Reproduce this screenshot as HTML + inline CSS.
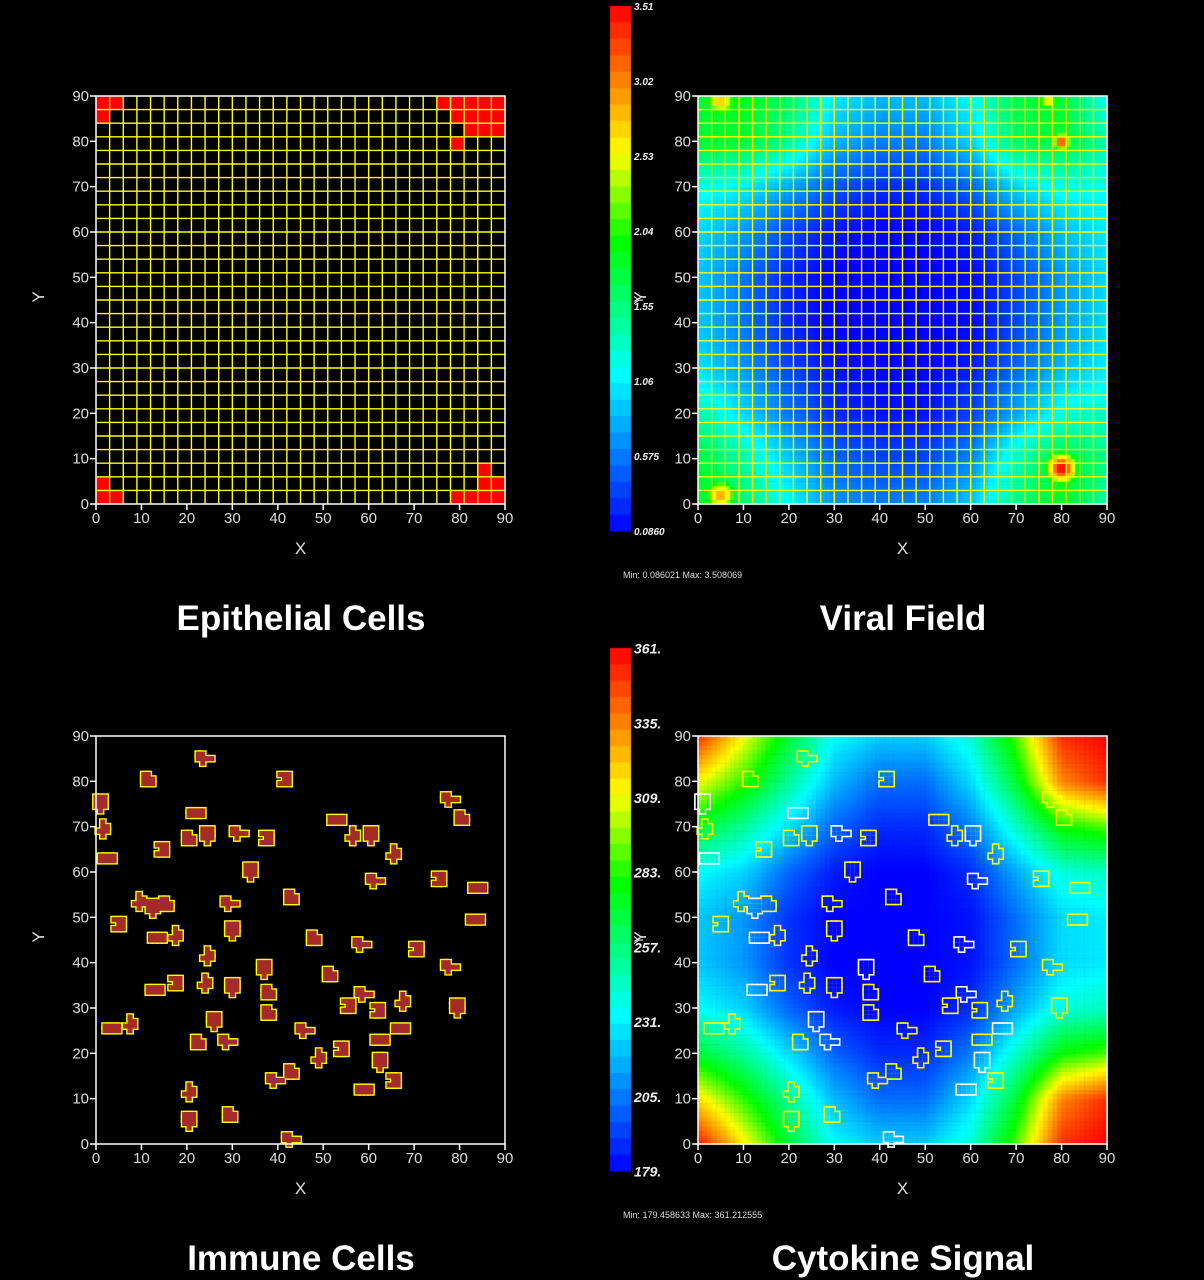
<!DOCTYPE html>
<html><head><meta charset="utf-8"><style>
html,body{margin:0;padding:0;background:#000;}
#wrap{position:relative;width:1204px;height:1280px;overflow:hidden;background:#000;}
canvas,svg{position:absolute;left:0;top:0;}
text{font-family:"Liberation Sans",sans-serif;}
</style></head><body>
<div id="wrap">
<canvas id="cv" width="1204" height="1280"></canvas>
<svg id="sv" width="1204" height="1280" xmlns="http://www.w3.org/2000/svg"></svg>
</div>
<script>
// ---------- data ----------
const axisTicks=[0,10,20,30,40,50,60,70,80,90];
const redCols=[0,1,0, 25,26,27,28,29, 26,27,28,29, 27,28,29, 26, 0,1,0, 26,27,28,29, 28,29, 28];
const redRows=[29,29,28, 29,29,29,29,29, 28,28,28,28, 27,27,27, 26, 0,0,1, 0,0,0,0, 1,1, 2];
const viralMin=0.086021, viralMax=3.508069;
const viralLevels=[
[0.50,0.52,0.45,0.28,0.22,0.22,0.30,0.48,0.50,0.30],
[0.50,0.50,0.40,0.22,0.15,0.15,0.25,0.45,0.50,0.38],
[0.32,0.28,0.20,0.10,0.05,0.05,0.12,0.25,0.32,0.30],
[0.26,0.18,0.08,0.02,0.00,0.00,0.03,0.12,0.22,0.28],
[0.24,0.14,0.04,0.00,0.00,0.00,0.01,0.08,0.18,0.26],
[0.24,0.14,0.04,0.00,0.00,0.00,0.01,0.08,0.18,0.26],
[0.27,0.18,0.08,0.02,0.00,0.00,0.03,0.12,0.22,0.28],
[0.38,0.26,0.14,0.05,0.02,0.02,0.08,0.20,0.32,0.35],
[0.50,0.38,0.24,0.12,0.08,0.08,0.16,0.36,0.50,0.42],
[0.52,0.45,0.30,0.18,0.15,0.16,0.24,0.42,0.52,0.38]];
const hotX=[5,77,80,5,80];
const hotY=[89,89,80,2,8];
const hotPeak=[0.78,0.74,0.95,0.82,1.0];
const hotRad=[4.5,3,2.5,4.5,4.5];
const viralBarLabels=["3.51","3.02","2.53","2.04","1.55","1.06","0.575","0.0860"];
const cytoMin=179.458633, cytoMax=361.212555;
const cytoLevels=[
[0.95,0.72,0.50,0.30,0.24,0.24,0.34,0.60,0.95,1.00],
[0.72,0.58,0.40,0.22,0.13,0.13,0.26,0.50,0.85,0.95],
[0.50,0.40,0.26,0.12,0.05,0.05,0.15,0.35,0.55,0.60],
[0.30,0.25,0.12,0.03,0.00,0.00,0.05,0.20,0.33,0.36],
[0.24,0.18,0.06,0.00,0.00,0.00,0.02,0.13,0.26,0.28],
[0.24,0.18,0.06,0.00,0.00,0.00,0.02,0.13,0.26,0.28],
[0.30,0.25,0.12,0.03,0.00,0.00,0.05,0.20,0.33,0.36],
[0.50,0.40,0.26,0.12,0.05,0.05,0.15,0.35,0.55,0.60],
[0.75,0.58,0.40,0.22,0.13,0.13,0.26,0.50,0.85,0.95],
[0.98,0.74,0.50,0.30,0.24,0.24,0.34,0.60,0.95,1.00]];
const cytoBarLabels=["361.","335.","309.","283.","257.","231.","205.","179."];
const immX=[1,11.5,23.5,41.5,21.5,1.5,24.5,20.5,31,37.5,52.5,56.5,60.5,80.5,77.5,14.5,2,65.5,34,43,61,75.5,83.5,9.5,12.5,15.5,29,5,13,17.5,30,48,58,70.5,83,24.5,37,51.5,77.5,17.5,12.5,24,30,38,58.5,55.5,3,7.5,26,38,45.5,62,66.5,67.5,79.5,22.5,28.5,54,62,49,62.5,43,39,65.5,58.5,20.5,20.5,29.5,42.5];
const immY=[75.5,80.5,85,80.5,73.5,69,68.5,67.5,68.5,67.5,72,67.5,68.5,72,76,65,63.5,63.5,60.5,54.5,58,58.5,57,53,52.5,53,53,48.5,46,45.5,47.5,45.5,44,43,50,41,39,37.5,39,35.5,34.5,35,35,33.5,33,30.5,26,26,27.5,29,25,29.5,26,31,30.5,22.5,22.5,21,23.5,18.5,18.5,16,14,14,12.5,11,5.5,6.5,1];
const shapes=[
 [[0,0],[1,0],[2,0],[0,1],[1,1],[2,1],[0,2],[1,2],[2,2],[1,-1]],
 [[0,0],[1,0],[2,0],[0,1],[1,1],[2,1],[0,2],[1,2]],
 [[1,0],[0,1],[1,1],[2,1],[3,1],[0,2],[1,2]],
 [[0,0],[1,0],[1,1],[2,1],[0,2],[1,2],[2,2],[2,0]],
 [[0,0],[1,0],[2,0],[3,0],[0,1],[1,1],[2,1],[3,1]],
 [[1,0],[1,1],[2,1],[0,1],[1,2],[2,2],[1,3]]
];
// ---------- helpers ----------
const NS="http://www.w3.org/2000/svg";
const sv=document.getElementById('sv');
const ctx=document.getElementById('cv').getContext('2d');
const W=409,H=408;
function mk(tag,attrs,parent){const e=document.createElementNS(NS,tag);for(const k in attrs)e.setAttribute(k,attrs[k]);(parent||sv).appendChild(e);return e;}
function sx(p,u){return p.x+u*W/90;}
function sy(p,u){return p.y+H-u*H/90;}
const cmapT=[0,0.3,0.55,0.72,1];
const cmapC=[[0,0,255],[0,255,255],[0,255,0],[255,255,0],[255,0,0]];
function colorOf(t){t=Math.max(0,Math.min(1,t));let k=0;while(k<cmapT.length-2&&t>cmapT[k+1])k++;
 const a=(t-cmapT[k])/(cmapT[k+1]-cmapT[k]);const c0=cmapC[k],c1=cmapC[k+1];
 return 'rgb('+Math.round(c0[0]+(c1[0]-c0[0])*a)+','+Math.round(c0[1]+(c1[1]-c0[1])*a)+','+Math.round(c0[2]+(c1[2]-c0[2])*a)+')';}
function bil(g,u,v){const fx=u/10,fy=(90-v)/10;let i=Math.min(8,Math.floor(fx)),j=Math.min(8,Math.floor(fy));const a=fx-i,b=fy-j;
 return g[j][i]*(1-a)*(1-b)+g[j][i+1]*a*(1-b)+g[j+1][i]*(1-a)*b+g[j+1][i+1]*a*b;}
const P1={x:96,y:96},P2={x:698,y:96},P3={x:96,y:736},P4={x:698,y:736};

function axes(p,name){
 const g=mk('g',{});
 
 
 mk('rect',{x:p.x,y:p.y,width:W,height:H,fill:'none',stroke:'#fff','stroke-width':1.5},g);
 axisTicks.forEach(t=>{
  const x=sx(p,t),y=sy(p,t);
  mk('line',{x1:x,y1:p.y+H,x2:x,y2:p.y+H+6,stroke:'#fff','stroke-width':1.5},g);
  const tx=mk('text',{x:x,y:p.y+H+19,fill:'#ddd','font-size':15,'text-anchor':'middle'},g);tx.textContent=t;
  
  
  mk('line',{x1:p.x-6,y1:y,x2:p.x,y2:y,stroke:'#fff','stroke-width':1.5},g);
  const ty=mk('text',{x:p.x-7,y:y+5,fill:'#ddd','font-size':15,'text-anchor':'end'},g);ty.textContent=t;
  
  
 });
 const xl=mk('text',{x:p.x+W/2,y:p.y+H+50,fill:'#ddd','font-size':17,'text-anchor':'middle'},g);xl.textContent='X';
 
 
 const cy=p.y+H/2-3;
 const yl=mk('text',{x:p.x-52,y:cy,fill:'#ddd','font-size':17,'text-anchor':'middle',transform:'rotate(-90 '+(p.x-52)+' '+cy+')'},g);yl.textContent='Y';
 
 
}
function grid(p,name){
 const g=mk('g',{stroke:'#ffff00','stroke-width':1.4});
 
 
 for(let k=1;k<30;k++){
  const x=sx(p,k*3),y=sy(p,k*3);
  mk('line',{x1:x,y1:p.y,x2:x,y2:p.y+H},g);
  mk('line',{x1:p.x,y1:y,x2:p.x+W,y2:y},g);
 }
}
function title(x,y,s,name){const t=mk('text',{x:x,y:y,fill:'#fff','font-size':35,'font-weight':'bold','text-anchor':'middle'});t.textContent=s;
 
 }
function colorbar(top,bot,labels,fs,name){
 const n=32;
 for(let k=0;k<n;k++){const y0=top+(bot-top)*k/n;ctx.fillStyle=colorOf(1-(k+0.5)/n);ctx.fillRect(610,y0,21,(bot-top)/n+0.6);}
 const g=mk('g',{});
 
 
 labels.forEach((l,k)=>{const y=top+(bot-top)*k/(labels.length-1);
  const t=mk('text',{x:634,y:y+fs*0.4,fill:'#eee','font-size':fs,'font-style':'italic','font-weight':'bold'},g);t.textContent=l;
  
  });
}
function field(p,levels,hx,hy,hp,hr){
 for(let i=0;i<90;i++)for(let j=0;j<90;j++){
  const u=i+0.5,v=j+0.5;let t=bil(levels,u,v);
  for(let k=0;k<hx.length;k++){const d2=(u-hx[k])**2+(v-hy[k])**2;const h=hp[k]*Math.exp(-d2/(hr[k]*hr[k]));if(h>t)t=h;}
  ctx.fillStyle=colorOf(t);
  const x0=sx(p,i),x1=sx(p,i+1),y0=sy(p,j+1),y1=sy(p,j);
  ctx.fillRect(x0,y0,x1-x0+0.5,y1-y0+0.5);
 }
}
function blobs(p,fill,name){
 const g=mk('g',{});
 
 
 const cs=W/90;
 const mid='m'+name;
 const defs=mk('defs',{},g);
 const mask=mk('mask',{id:mid,maskUnits:'userSpaceOnUse',x:0,y:0,width:1204,height:1280},defs);
 mk('rect',{x:0,y:0,width:1204,height:1280,fill:'#fff'},mask);
 immX.forEach((cx,i)=>{
  const sh=shapes[i%shapes.length];
  const bx=cx-1.5,by=immY[i]-1.5;
  const cell=mk('g',{mask:'url(#'+mid+')'},g);
  
  
  const col=fill?'#ffff00':(i%4===0?'#ffffff':'#ffff00');
  sh.forEach(o=>{
   const x=sx(p,bx+o[0]),y=sy(p,by+o[1]+1);
   mk('rect',{x:x,y:y,width:cs,height:cs,fill:'none',stroke:col,'stroke-width':3.2},cell);
   mk('rect',{x:x,y:y,width:cs,height:cs,fill:'#000'},mask);
   if(fill) mk('rect',{x:x-0.2,y:y-0.2,width:cs+0.4,height:cs+0.4,fill:'#a52a2a'},g);
  });
 });
}
// ---------- panel 1 ----------
(function(){
 const g=mk('g',{});
 
 
 redCols.forEach((c,i)=>{const r=redRows[i];
  const x0=sx(P1,c*3),x1=sx(P1,c*3+3),y0=sy(P1,r*3+3),y1=sy(P1,r*3);
  const rc=mk('rect',{x:x0,y:y0,width:x1-x0,height:y1-y0,fill:'#ff0000'},g);
  
  });
 grid(P1,'epithelial-grid');
 axes(P1,'epithelial');
 title(301,630,'Epithelial Cells','epithelial-title');
})();
// ---------- panel 2 ----------
field(P2,viralLevels,hotX,hotY,hotPeak,hotRad);
grid(P2,'viral-grid');
axes(P2,'viral');
colorbar(6,531,viralBarLabels,10,'viral-colorbar');
(function(){
 const t=mk('text',{x:623,y:578,fill:'#ddd','font-size':9});t.textContent='Min: 0.086021 Max: 3.508069';
 
 
 const y=mk('text',{x:643,y:300,fill:'#ddd','font-size':13,'text-anchor':'middle',transform:'rotate(-90 643 300)'});y.textContent='Y';
 
 
 title(903,630,'Viral Field','viral-title');
})();
// ---------- panel 3 ----------
blobs(P3,true,'immune-cells');
axes(P3,'immune');
title(301,1270,'Immune Cells','immune-title');
// ---------- panel 4 ----------
field(P4,cytoLevels,[],[],[],[]);
blobs(P4,false,'cytokine-cell-outlines');
axes(P4,'cytokine');
colorbar(648,1171,cytoBarLabels,14,'cytokine-colorbar');
(function(){
 const t=mk('text',{x:623,y:1218,fill:'#ddd','font-size':9});t.textContent='Min: 179.458633 Max: 361.212555';
 
 
 const y=mk('text',{x:643,y:940,fill:'#ddd','font-size':13,'text-anchor':'middle',transform:'rotate(-90 643 940)'});y.textContent='Y';
 
 
 title(903,1270,'Cytokine Signal','cytokine-title');
})();
</script>
</body></html>
